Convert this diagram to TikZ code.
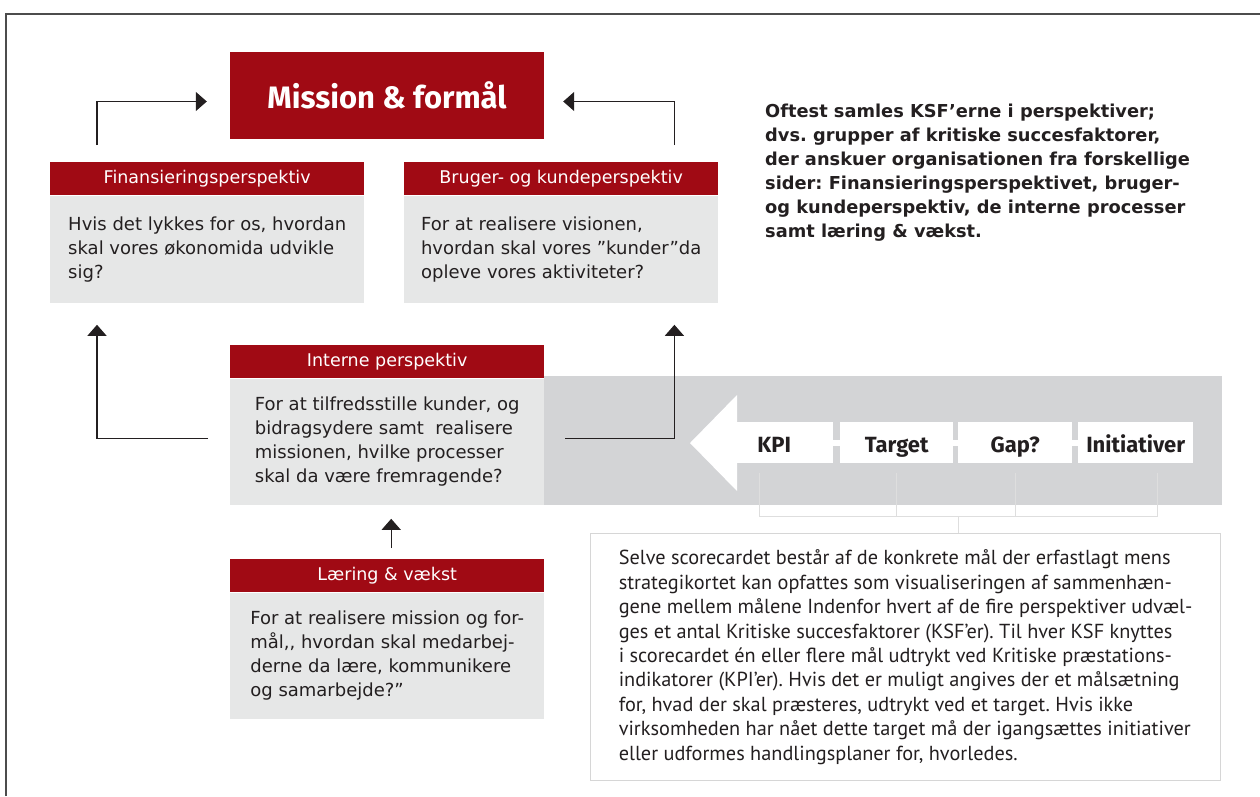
\documentclass[tikz,border=0pt]{standalone}
\usepackage{fontspec}
\setmainfont{DejaVu Sans}
\newfontfamily\condfont{PT Sans}
\newfontfamily\titlefont{Fira Sans}
\usetikzlibrary{positioning, arrows.meta, calc}
\frenchspacing

\definecolor{bscred}{HTML}{A00A14}
\definecolor{boxgray}{HTML}{E6E7E7}
\definecolor{bandgray}{HTML}{D3D4D6}
\definecolor{inkdark}{HTML}{231F20}

\tikzset{
  header/.style={fill=bscred, text=white, minimum width=314pt, minimum height=33pt, inner sep=0pt, anchor=north west, font=\fontsize{17.5}{20}\selectfont},
  question/.style={fill=boxgray, text=inkdark, minimum width=314pt, inner sep=0pt, align=left, font=\fontsize{18}{24}\selectfont},
  link/.style={draw=inkdark, line width=1.2pt, -{Triangle[width=19pt,length=11pt]}},
  kpibox/.style={fill=white, minimum height=41pt, inner sep=0pt, text height=19pt, text depth=0pt, anchor=north west, text=inkdark, font=\titlefont\bfseries\fontsize{22}{24}\selectfont},
  bracket/.style={draw=black!13, line width=1.3pt},
}

\begin{document}
\begin{tikzpicture}[x=1pt, y=-1pt]
\useasboundingbox (0,0) rectangle (1260,796);
\draw[black!70, line width=1.3pt] (6,796) -- (6,14) -- (1260,14);

% mission on top
\node[fill=bscred, text=white, minimum width=314pt, minimum height=87pt, font=\titlefont\bfseries\fontsize{31}{34}\selectfont] (mission) at (387,95.5) {Mission \& formål};

% the four perspectives
\node[header] (finhead) at (50,162) {Finansieringsperspektiv};
\node[question, minimum height=107pt, below=0pt of finhead] (finbody) {Hvis det lykkes for os, hvordan\\skal vores økonomida udvikle\\sig?};

\node[header] (bruhead) at (404,162) {Bruger- og kundeperspektiv};
\node[question, minimum height=107pt, below=0pt of bruhead] (brubody) {For at realisere visionen,\\hvordan skal vores ”kunder”da\\opleve vores aktiviteter?};

\node[fill=bandgray, minimum width=678pt, minimum height=129pt, inner sep=0pt, anchor=north west] (band) at (544,376) {};

\node[header] (inthead) at (230,345) {Interne perspektiv};
\node[question, minimum height=126pt, below=0pt of inthead] (intbody) {For at tilfredsstille kunder, og\\bidragsydere samt \ realisere\\missionen, hvilke processer\\skal da være fremragende?};

\node[header] (laerhead) at (230,559) {Læring \& vækst};
\node[question, minimum height=126pt, below=0pt of laerhead] (laerbody) {For at realisere mission og for-\\mål,{}, hvordan skal medarbej-\\derne da lære, kommunikere\\og samarbejde?”};

% connectors
\draw[link] ([xshift=47pt,yshift=17pt]finhead.north west) |- ([xshift=-23pt,yshift=-6pt]mission.west);
\draw[link] ([xshift=-44pt,yshift=17pt]bruhead.north east) |- ([xshift=19pt,yshift=-6pt]mission.east);
\draw[link] ([xshift=-22pt,yshift=3pt]intbody.west) -| ([xshift=47pt,yshift=-22pt]finbody.south west);
\draw[link] ([xshift=21pt,yshift=3pt]intbody.east) -| ([xshift=-44pt,yshift=-22pt]brubody.south east);
\draw[link] ([xshift=4pt,yshift=11pt]laerhead.north) -- ([xshift=4pt,yshift=-14pt]intbody.south);

% scorecard arrow
\fill[white] (690,443) -- (737,395) -- (737,491) -- cycle;
\fill[white] (737,440) rectangle (1193,446);
\node[kpibox, minimum width=118pt] (kpi) at (715,422) {KPI};
\node[kpibox, minimum width=113pt] (target) at (840,422) {Target};
\node[kpibox, minimum width=114pt] (gap) at (958,422) {Gap?};
\node[kpibox, minimum width=115pt] (init) at (1078,422) {Initiativer};

% bracket down to the explanation
\draw[bracket] ([xshift=-15pt,yshift=-10pt]kpi.south) |- ([xshift=21.5pt,yshift=-53pt]init.south) -- ([xshift=21.5pt,yshift=-10pt]init.south);
\draw[bracket] ([yshift=-10pt]target.south) -- ++(0,43);
\draw[bracket] ([yshift=-10pt]gap.south) -- ++(0,43);
\coordinate (mid) at ($([xshift=-15pt,yshift=-53pt]kpi.south)!0.5!([xshift=21.5pt,yshift=-53pt]init.south)$);

\node[draw=black!16, line width=1.2pt, minimum width=630pt, minimum height=247pt, inner sep=0pt, anchor=north west, align=left, text=inkdark, font=\condfont\fontsize{20.3}{24.4}\selectfont] (desc) at (590,533) {Selve scorecardet består af de konkrete mål der erfastlagt mens\\strategikortet kan opfattes som visualiseringen af sammenhæn-\\gene mellem målene Indenfor hvert af de fire perspektiver udvæl-\\ges et antal Kritiske succesfaktorer (KSF’er). Til hver KSF knyttes\\i scorecardet én eller flere mål udtrykt ved Kritiske præstations-\\indikatorer (KPI’er). Hvis det er muligt angives der et målsætning\\for, hvad der skal præsteres, udtrykt ved et target. Hvis ikke\\virksomheden har nået dette target må der igangsættes initiativer\\eller udformes handlingsplaner for, hvorledes.};
\draw[bracket] (mid) -- (mid |- desc.north);

\node[anchor=north west, align=left, inner sep=0pt, text=inkdark, font=\bfseries\fontsize{17.8}{24}\selectfont] (note) at (765,104) {Oftest samles KSF’erne i perspektiver;\\dvs. grupper af kritiske succesfaktorer,\\der anskuer organisationen fra forskellige\\sider: Finansieringsperspektivet, bruger-\\og kundeperspektiv, de interne processer\\samt læring \& vækst.};
\end{tikzpicture}
\end{document}
